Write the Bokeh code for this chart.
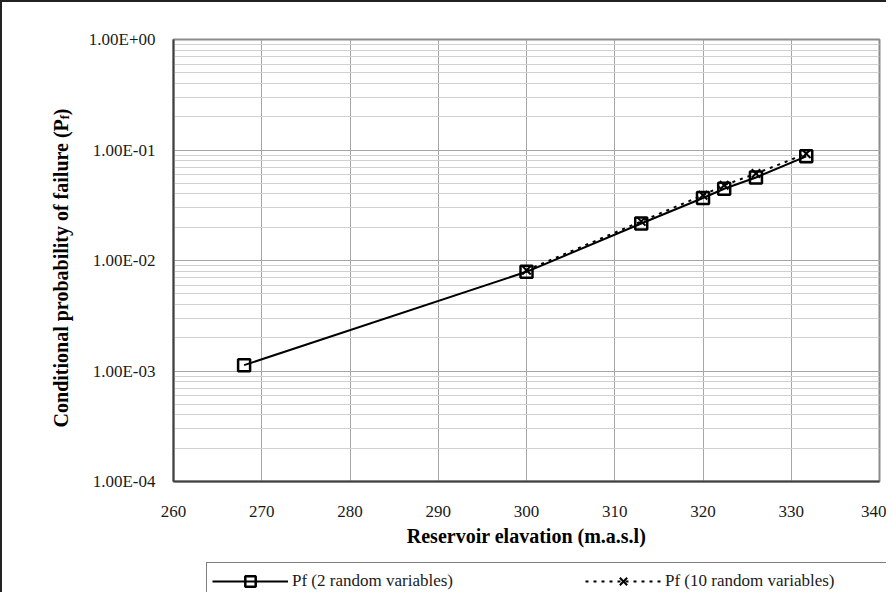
import math
from bokeh.plotting import figure
from bokeh.layouts import row, column
from bokeh.models import (Range1d, LogTicker, FixedTicker, CustomJSTickFormatter,
                          Legend, LegendItem, Label)
from bokeh.embed import file_html
from bokeh.resources import INLINE

# ---- data ----
elev_2rv = [268.0, 300.0, 313.0, 320.0, 322.4, 326.0, 331.7]
pf_2rv = [1.13e-3, 7.9e-3, 0.0216, 0.0368, 0.0446, 0.0564, 0.0877]
elev_10rv = [300.0, 313.0, 320.0, 322.4, 326.0, 331.7]
pf_10rv = [8.15e-3, 0.0226, 0.0390, 0.0480, 0.0612, 0.0925]
x_ticks = [260, 270, 280, 290, 300, 310, 320, 330, 340]
label_2rv = "Pf (2 random variables)"
label_10rv = "Pf (10 random variables)"
x_title = "Reservoir elavation (m.a.s.l)"
y_title_main = "Conditional probability of failure (P"
y_title_sub = "f"
y_title_end = ")"

FONT = "Liberation Serif"
W_TOTAL, H_TOTAL = 884, 590
W_TITLE = 72
H_LEG = 30
H_MAIN = H_TOTAL - H_LEG


def blank_fig(w, h, xr, yr):
    f = figure(width=w, height=h, output_backend="svg", toolbar_location=None,
               x_range=xr, y_range=yr, x_axis_location=None, y_axis_location=None,
               min_border=0)
    f.grid.visible = False
    f.outline_line_color = None
    f.background_fill_color = "white"
    f.border_fill_color = "white"
    return f


def draw_series(fig):
    a = fig.line(elev_2rv, pf_2rv, line_color="black", line_width=2)
    b = fig.scatter(elev_2rv, pf_2rv, marker="square", size=12, fill_color=None,
                    line_color="black", line_width=2.5)
    c = fig.line(elev_10rv, pf_10rv, line_color="black", line_width=2, line_dash="3 5")
    d = fig.scatter(elev_10rv, pf_10rv, marker="x", size=12, line_color="black",
                    line_width=2)
    return a, b, c, d


# ---------- main plot ----------
p = figure(width=W_TOTAL - W_TITLE, height=H_MAIN, output_backend="svg",
           toolbar_location=None, y_axis_type="log",
           x_range=Range1d(260, 340), y_range=Range1d(1e-4, 1.0),
           min_border_left=171 - W_TITLE, min_border_right=7,
           min_border_top=37, min_border_bottom=H_MAIN - 479)
p.background_fill_color = "white"
p.border_fill_color = "white"
p.outline_line_color = "#8c8c8c"
p.outline_line_width = 2

p.xaxis.ticker = FixedTicker(ticks=x_ticks)
p.yaxis.ticker = LogTicker(mantissas=[1], num_minor_ticks=10)
p.yaxis.formatter = CustomJSTickFormatter(code="""
const e = Math.round(Math.log10(tick));
const s = e < 0 ? '-' : '+';
const a = Math.abs(e);
return '1.00E' + s + (a < 10 ? '0' : '') + a;
""")
for ax in (p.xaxis, p.yaxis):
    ax.major_tick_line_color = None
    ax.minor_tick_line_color = None
    ax.axis_line_color = "#404040"
    ax.axis_line_width = 2
    ax.major_label_text_font = FONT
    ax.major_label_text_font_size = "17px"
    ax.major_label_text_color = "#1a1a1a"
p.xaxis.major_label_standoff = 18
p.yaxis.major_label_standoff = 12
p.xaxis.axis_label = x_title
p.xaxis.axis_label_text_font = FONT
p.xaxis.axis_label_text_font_style = "bold"
p.xaxis.axis_label_text_font_size = "20px"
p.xaxis.axis_label_standoff = 5
p.xaxis.axis_label_text_color = "black"

p.xgrid.grid_line_color = "#a6a6a6"
p.ygrid.grid_line_color = "#a6a6a6"
p.ygrid.minor_grid_line_color = "#d0d0d0"

draw_series(p)

# ---------- y-axis title (with subscript) ----------
t = blank_fig(W_TITLE, H_MAIN, Range1d(0, W_TITLE), Range1d(H_MAIN, 0))
tx, ty = 58, 101
t.add_layout(Label(x=tx, y=ty, text=y_title_main, angle=math.pi / 2,
                   text_align="right", text_baseline="middle",
                   text_font=FONT, text_font_style="bold", text_font_size="20px",
                   text_color="black"))
t.add_layout(Label(x=tx + 4, y=ty, text=y_title_sub, angle=math.pi / 2,
                   text_align="left", text_baseline="middle",
                   text_font=FONT, text_font_style="bold", text_font_size="13px",
                   text_color="black"))
t.add_layout(Label(x=tx, y=ty - 5, text=y_title_end, angle=math.pi / 2,
                   text_align="left", text_baseline="middle",
                   text_font=FONT, text_font_style="bold", text_font_size="20px",
                   text_color="black"))

# ---------- legend strip (series drawn off-view, only legend is visible) ----------
lg = blank_fig(W_TOTAL, H_LEG, Range1d(0, 1), Range1d(0, 1))
r1, r1m, r2, r2m = draw_series(lg)
legend = Legend(items=[LegendItem(label=label_2rv, renderers=[r1, r1m]),
                       LegendItem(label=label_10rv, renderers=[r2, r2m])],
                orientation="horizontal", location=(204, H_LEG - 38),
                glyph_width=76, glyph_height=26, label_standoff=4,
                label_width=282, spacing=11, padding=5, margin=0,
                border_line_color="black", border_line_width=1.5,
                label_text_font=FONT, label_text_font_size="17px",
                label_text_color="#1a1a1a", background_fill_alpha=1)
lg.add_layout(legend, "center")

layout = column(row(t, p, spacing=0), lg, spacing=0,
                styles={"border-left": "2px solid #222222",
                        "border-top": "2px solid #222222"})

open("out.html", "w").write(file_html(layout, INLINE))
